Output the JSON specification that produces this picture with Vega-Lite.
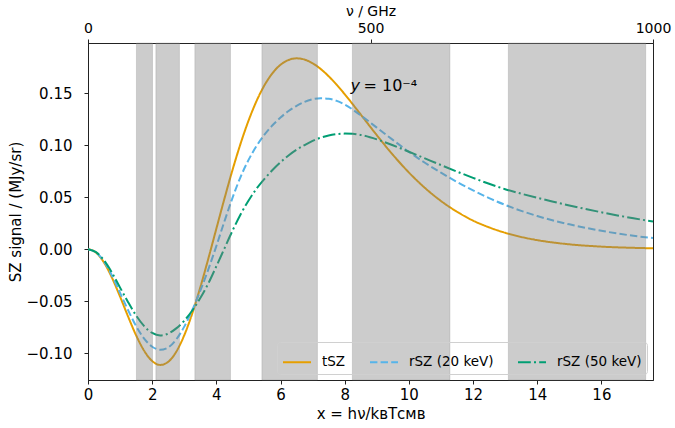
{
  "$schema": "https://vega.github.io/schema/vega-lite/v6.json",
  "width": 565,
  "height": 337,
  "autosize": {"type": "none"},
  "padding": {"left": 88, "top": 43, "right": 22, "bottom": 48},
  "background": "white",
  "config": {
    "font": "DejaVu Sans",
    "view": {"stroke": "#222", "strokeWidth": 1},
    "axis": {
      "labelFont": "DejaVu Sans", "titleFont": "DejaVu Sans",
      "labelFontSize": 15, "titleFontSize": 15,
      "labelColor": "#000", "titleColor": "#000",
      "domainColor": "#222", "tickColor": "#222",
      "tickSize": 4, "grid": false, "titleFontWeight": "normal",
      "labelFlush": false, "labelOverlap": false
    },
    "legend": {
      "orient": "bottom-right", "direction": "horizontal", "columns": 3,
      "symbolType": "stroke", "symbolSize": 784, "symbolStrokeWidth": 2,
      "labelFont": "DejaVu Sans", "labelFontSize": 13.5, "labelColor": "#000",
      "padding": 5, "strokeColor": "#d0d0d0", "fillColor": "transparent",
      "cornerRadius": 3, "offset": 6, "columnPadding": 20, "labelOffset": 10,
      "title": null
    }
  },
  "datasets": {
    "curves": [
      {"x": 0, "y": 0, "s": "tSZ"},
      {"x": 0.25, "y": -0.00334, "s": "tSZ"},
      {"x": 0.5, "y": -0.01296, "s": "tSZ"},
      {"x": 0.75, "y": -0.02768, "s": "tSZ"},
      {"x": 1, "y": -0.0457, "s": "tSZ"},
      {"x": 1.25, "y": -0.06486, "s": "tSZ"},
      {"x": 1.5, "y": -0.0829, "s": "tSZ"},
      {"x": 1.75, "y": -0.09771, "s": "tSZ"},
      {"x": 2, "y": -0.10757, "s": "tSZ"},
      {"x": 2.25, "y": -0.1113, "s": "tSZ"},
      {"x": 2.5, "y": -0.10832, "s": "tSZ"},
      {"x": 2.75, "y": -0.09863, "s": "tSZ"},
      {"x": 3, "y": -0.08278, "s": "tSZ"},
      {"x": 3.25, "y": -0.06174, "s": "tSZ"},
      {"x": 3.5, "y": -0.03674, "s": "tSZ"},
      {"x": 3.75, "y": -0.00915, "s": "tSZ"},
      {"x": 4, "y": 0.01963, "s": "tSZ"},
      {"x": 4.25, "y": 0.04829, "s": "tSZ"},
      {"x": 4.5, "y": 0.0757, "s": "tSZ"},
      {"x": 4.75, "y": 0.10091, "s": "tSZ"},
      {"x": 5, "y": 0.12322, "s": "tSZ"},
      {"x": 5.25, "y": 0.14217, "s": "tSZ"},
      {"x": 5.5, "y": 0.15749, "s": "tSZ"},
      {"x": 5.75, "y": 0.16912, "s": "tSZ"},
      {"x": 6, "y": 0.17715, "s": "tSZ"},
      {"x": 6.25, "y": 0.18179, "s": "tSZ"},
      {"x": 6.5, "y": 0.18335, "s": "tSZ"},
      {"x": 6.75, "y": 0.18217, "s": "tSZ"},
      {"x": 7, "y": 0.17864, "s": "tSZ"},
      {"x": 7.25, "y": 0.17318, "s": "tSZ"},
      {"x": 7.5, "y": 0.16615, "s": "tSZ"},
      {"x": 7.75, "y": 0.15794, "s": "tSZ"},
      {"x": 8, "y": 0.14888, "s": "tSZ"},
      {"x": 8.5, "y": 0.12936, "s": "tSZ"},
      {"x": 9, "y": 0.10952, "s": "tSZ"},
      {"x": 9.5, "y": 0.09068, "s": "tSZ"},
      {"x": 10, "y": 0.07366, "s": "tSZ"},
      {"x": 10.5, "y": 0.05882, "s": "tSZ"},
      {"x": 11, "y": 0.04628, "s": "tSZ"},
      {"x": 11.5, "y": 0.03592, "s": "tSZ"},
      {"x": 12, "y": 0.02739, "s": "tSZ"},
      {"x": 12.5, "y": 0.02091, "s": "tSZ"},
      {"x": 13, "y": 0.01571, "s": "tSZ"},
      {"x": 13.5, "y": 0.0117, "s": "tSZ"},
      {"x": 14, "y": 0.00864, "s": "tSZ"},
      {"x": 15, "y": 0.00461, "s": "tSZ"},
      {"x": 16, "y": 0.00239, "s": "tSZ"},
      {"x": 17, "y": 0.00122, "s": "tSZ"},
      {"x": 17.608, "y": 0.0008, "s": "tSZ"},

      {"x": 0, "y": 0, "s": "rSZ (20 keV)"},
      {"x": 0.25, "y": -0.0031, "s": "rSZ (20 keV)"},
      {"x": 0.5, "y": -0.012, "s": "rSZ (20 keV)"},
      {"x": 0.75, "y": -0.0256, "s": "rSZ (20 keV)"},
      {"x": 1, "y": -0.0421, "s": "rSZ (20 keV)"},
      {"x": 1.25, "y": -0.0588, "s": "rSZ (20 keV)"},
      {"x": 1.5, "y": -0.074, "s": "rSZ (20 keV)"},
      {"x": 1.75, "y": -0.086, "s": "rSZ (20 keV)"},
      {"x": 2, "y": -0.0938, "s": "rSZ (20 keV)"},
      {"x": 2.25, "y": -0.0967, "s": "rSZ (20 keV)"},
      {"x": 2.5, "y": -0.0945, "s": "rSZ (20 keV)"},
      {"x": 2.75, "y": -0.0868, "s": "rSZ (20 keV)"},
      {"x": 3, "y": -0.0745, "s": "rSZ (20 keV)"},
      {"x": 3.25, "y": -0.0585, "s": "rSZ (20 keV)"},
      {"x": 3.5, "y": -0.04, "s": "rSZ (20 keV)"},
      {"x": 3.75, "y": -0.0195, "s": "rSZ (20 keV)"},
      {"x": 4, "y": 0.003, "s": "rSZ (20 keV)"},
      {"x": 4.25, "y": 0.0265, "s": "rSZ (20 keV)"},
      {"x": 4.5, "y": 0.049, "s": "rSZ (20 keV)"},
      {"x": 4.75, "y": 0.069, "s": "rSZ (20 keV)"},
      {"x": 5, "y": 0.0855, "s": "rSZ (20 keV)"},
      {"x": 5.25, "y": 0.099, "s": "rSZ (20 keV)"},
      {"x": 5.5, "y": 0.11, "s": "rSZ (20 keV)"},
      {"x": 5.75, "y": 0.119, "s": "rSZ (20 keV)"},
      {"x": 6, "y": 0.1265, "s": "rSZ (20 keV)"},
      {"x": 6.25, "y": 0.1327, "s": "rSZ (20 keV)"},
      {"x": 6.5, "y": 0.1377, "s": "rSZ (20 keV)"},
      {"x": 6.75, "y": 0.1415, "s": "rSZ (20 keV)"},
      {"x": 7, "y": 0.144, "s": "rSZ (20 keV)"},
      {"x": 7.25, "y": 0.145, "s": "rSZ (20 keV)"},
      {"x": 7.5, "y": 0.1445, "s": "rSZ (20 keV)"},
      {"x": 7.75, "y": 0.1425, "s": "rSZ (20 keV)"},
      {"x": 8, "y": 0.139, "s": "rSZ (20 keV)"},
      {"x": 8.5, "y": 0.1285, "s": "rSZ (20 keV)"},
      {"x": 9, "y": 0.1168, "s": "rSZ (20 keV)"},
      {"x": 9.5, "y": 0.105, "s": "rSZ (20 keV)"},
      {"x": 10, "y": 0.0935, "s": "rSZ (20 keV)"},
      {"x": 10.5, "y": 0.083, "s": "rSZ (20 keV)"},
      {"x": 11, "y": 0.0735, "s": "rSZ (20 keV)"},
      {"x": 11.5, "y": 0.0645, "s": "rSZ (20 keV)"},
      {"x": 12, "y": 0.0565, "s": "rSZ (20 keV)"},
      {"x": 12.5, "y": 0.049, "s": "rSZ (20 keV)"},
      {"x": 13, "y": 0.0425, "s": "rSZ (20 keV)"},
      {"x": 13.5, "y": 0.0368, "s": "rSZ (20 keV)"},
      {"x": 14, "y": 0.0318, "s": "rSZ (20 keV)"},
      {"x": 14.5, "y": 0.0275, "s": "rSZ (20 keV)"},
      {"x": 15, "y": 0.0238, "s": "rSZ (20 keV)"},
      {"x": 15.5, "y": 0.0205, "s": "rSZ (20 keV)"},
      {"x": 16, "y": 0.0176, "s": "rSZ (20 keV)"},
      {"x": 16.5, "y": 0.015, "s": "rSZ (20 keV)"},
      {"x": 17, "y": 0.0128, "s": "rSZ (20 keV)"},
      {"x": 17.608, "y": 0.0106, "s": "rSZ (20 keV)"},

      {"x": 0, "y": 0, "s": "rSZ (50 keV)"},
      {"x": 0.25, "y": -0.0029, "s": "rSZ (50 keV)"},
      {"x": 0.5, "y": -0.0108, "s": "rSZ (50 keV)"},
      {"x": 0.75, "y": -0.0228, "s": "rSZ (50 keV)"},
      {"x": 1, "y": -0.037, "s": "rSZ (50 keV)"},
      {"x": 1.25, "y": -0.051, "s": "rSZ (50 keV)"},
      {"x": 1.5, "y": -0.0638, "s": "rSZ (50 keV)"},
      {"x": 1.75, "y": -0.074, "s": "rSZ (50 keV)"},
      {"x": 2, "y": -0.0806, "s": "rSZ (50 keV)"},
      {"x": 2.25, "y": -0.083, "s": "rSZ (50 keV)"},
      {"x": 2.5, "y": -0.0812, "s": "rSZ (50 keV)"},
      {"x": 2.75, "y": -0.0762, "s": "rSZ (50 keV)"},
      {"x": 3, "y": -0.0688, "s": "rSZ (50 keV)"},
      {"x": 3.25, "y": -0.059, "s": "rSZ (50 keV)"},
      {"x": 3.5, "y": -0.047, "s": "rSZ (50 keV)"},
      {"x": 3.75, "y": -0.033, "s": "rSZ (50 keV)"},
      {"x": 4, "y": -0.0165, "s": "rSZ (50 keV)"},
      {"x": 4.25, "y": 0.0005, "s": "rSZ (50 keV)"},
      {"x": 4.5, "y": 0.0175, "s": "rSZ (50 keV)"},
      {"x": 4.75, "y": 0.033, "s": "rSZ (50 keV)"},
      {"x": 5, "y": 0.0465, "s": "rSZ (50 keV)"},
      {"x": 5.25, "y": 0.058, "s": "rSZ (50 keV)"},
      {"x": 5.5, "y": 0.0675, "s": "rSZ (50 keV)"},
      {"x": 5.75, "y": 0.076, "s": "rSZ (50 keV)"},
      {"x": 6, "y": 0.0835, "s": "rSZ (50 keV)"},
      {"x": 6.25, "y": 0.09, "s": "rSZ (50 keV)"},
      {"x": 6.5, "y": 0.0955, "s": "rSZ (50 keV)"},
      {"x": 6.75, "y": 0.1, "s": "rSZ (50 keV)"},
      {"x": 7, "y": 0.104, "s": "rSZ (50 keV)"},
      {"x": 7.25, "y": 0.107, "s": "rSZ (50 keV)"},
      {"x": 7.5, "y": 0.1092, "s": "rSZ (50 keV)"},
      {"x": 7.75, "y": 0.1105, "s": "rSZ (50 keV)"},
      {"x": 8, "y": 0.111, "s": "rSZ (50 keV)"},
      {"x": 8.25, "y": 0.1108, "s": "rSZ (50 keV)"},
      {"x": 8.5, "y": 0.1097, "s": "rSZ (50 keV)"},
      {"x": 9, "y": 0.1055, "s": "rSZ (50 keV)"},
      {"x": 9.5, "y": 0.0998, "s": "rSZ (50 keV)"},
      {"x": 10, "y": 0.0936, "s": "rSZ (50 keV)"},
      {"x": 10.5, "y": 0.0872, "s": "rSZ (50 keV)"},
      {"x": 11, "y": 0.0808, "s": "rSZ (50 keV)"},
      {"x": 11.5, "y": 0.0745, "s": "rSZ (50 keV)"},
      {"x": 12, "y": 0.0685, "s": "rSZ (50 keV)"},
      {"x": 12.5, "y": 0.0628, "s": "rSZ (50 keV)"},
      {"x": 13, "y": 0.0576, "s": "rSZ (50 keV)"},
      {"x": 13.5, "y": 0.0533, "s": "rSZ (50 keV)"},
      {"x": 14, "y": 0.0493, "s": "rSZ (50 keV)"},
      {"x": 14.5, "y": 0.0456, "s": "rSZ (50 keV)"},
      {"x": 15, "y": 0.042, "s": "rSZ (50 keV)"},
      {"x": 15.5, "y": 0.0386, "s": "rSZ (50 keV)"},
      {"x": 16, "y": 0.0354, "s": "rSZ (50 keV)"},
      {"x": 16.5, "y": 0.0324, "s": "rSZ (50 keV)"},
      {"x": 17, "y": 0.0296, "s": "rSZ (50 keV)"},
      {"x": 17.608, "y": 0.0266, "s": "rSZ (50 keV)"}
    ],
    "bands": [
      {"x1": 1.51, "x2": 2.01},
      {"x1": 2.115, "x2": 2.85},
      {"x1": 3.33, "x2": 4.44},
      {"x1": 5.42, "x2": 7.15},
      {"x1": 8.24, "x2": 11.28},
      {"x1": 13.1, "x2": 17.38}
    ],
    "notes": [
      {"x": 8.18, "y": 0.157, "a": "y", "b": "= 10⁻⁴"}
    ]
  },
  "layer": [
    {
      "mark": {"type": "rule", "strokeDash": [2, 3.3], "strokeWidth": 2, "color": "#000"},
      "encoding": {
        "y": {"datum": 0, "type": "quantitative", "scale": {"domain": [-0.1258, 0.1981], "nice": false, "zero": false}}
      }
    },
    {
      "data": {"name": "curves"},
      "mark": {"type": "line", "strokeWidth": 2, "interpolate": "monotone", "clip": true},
      "encoding": {
        "x": {
          "field": "x", "type": "quantitative",
          "scale": {"domain": [0, 17.608], "nice": false, "zero": false},
          "axis": {"orient": "bottom", "values": [0, 2, 4, 6, 8, 10, 12, 14, 16], "format": "d", "title": "x = hν/kʙTᴄᴍʙ", "labelPadding": 3, "titlePadding": 4}
        },
        "y": {
          "field": "y", "type": "quantitative",
          "scale": {"domain": [-0.1258, 0.1981], "nice": false, "zero": false},
          "axis": {"values": [-0.1, -0.05, 0, 0.05, 0.1, 0.15], "format": ".2f", "title": "SZ signal / (MJy/sr)", "labelPadding": 12, "titlePadding": 3}
        },
        "color": {
          "field": "s", "type": "nominal",
          "scale": {"domain": ["tSZ", "rSZ (20 keV)", "rSZ (50 keV)"], "range": ["#E69F00", "#56B4E9", "#009E73"]},
          "legend": {}
        },
        "strokeDash": {
          "field": "s", "type": "nominal",
          "scale": {"domain": ["tSZ", "rSZ (20 keV)", "rSZ (50 keV)"], "range": [[1, 0], [7.4, 3.2], [12.8, 3.2, 2, 3.2]]}
        }
      }
    },
    {
      "data": {"name": "bands"},
      "mark": {"type": "rect", "fill": "#808080", "fillOpacity": 0.4, "stroke": "#808080", "strokeOpacity": 0.25, "strokeWidth": 1},
      "encoding": {
        "x": {
          "field": "x1", "type": "quantitative",
          "axis": {"orient": "top", "values": [0, 8.804, 17.608], "labelExpr": "datum.value < 1 ? '0' : datum.value < 10 ? '500' : '1000'", "title": "ν / GHz", "titlePadding": 3, "labelPadding": 4, "labelFontSize": 14, "titleFontSize": 14}
        },
        "x2": {"field": "x2"}
      }
    },
    {
      "data": {"name": "notes"},
      "mark": {"type": "text", "align": "left", "baseline": "middle", "fontSize": 16, "fontStyle": "italic", "font": "DejaVu Sans"},
      "encoding": {
        "x": {"field": "x", "type": "quantitative", "axis": null},
        "y": {"field": "y", "type": "quantitative"},
        "text": {"field": "a"}
      }
    },
    {
      "data": {"name": "notes"},
      "mark": {"type": "text", "align": "left", "baseline": "middle", "fontSize": 16, "dx": 13, "font": "DejaVu Sans"},
      "encoding": {
        "x": {"field": "x", "type": "quantitative", "axis": null},
        "y": {"field": "y", "type": "quantitative"},
        "text": {"field": "b"}
      }
    }
  ],
  "resolve": {"axis": {"x": "independent"}}
}
